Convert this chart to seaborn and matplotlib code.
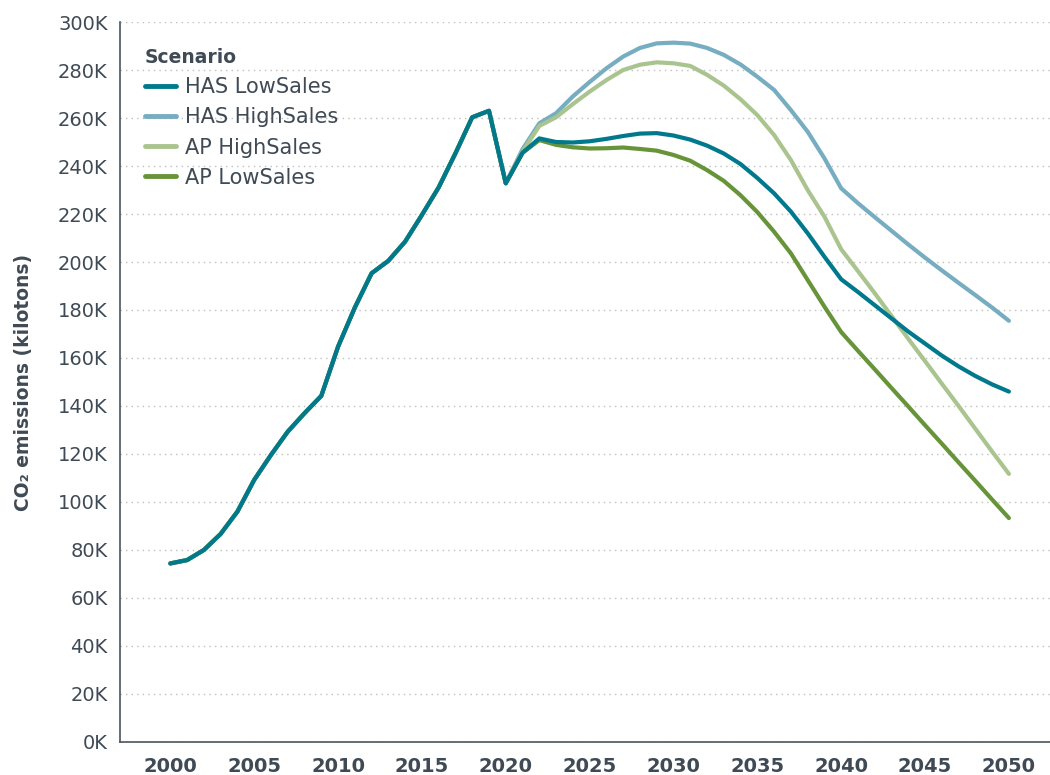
import matplotlib
matplotlib.use("Agg")
import matplotlib.pyplot as plt
import seaborn as sns
import pandas as pd
from matplotlib.ticker import FuncFormatter, MultipleLocator

# ---- data (kilotons CO2) ----
hist_years = list(range(2000, 2020))
hist_values = [74.4, 75.8, 80.0, 86.7, 96.0, 109.2, 119.6, 129.3, 137.0, 144.2,
               164.7, 181.0, 195.3, 200.5, 208.5, 219.6, 231.1, 245.3, 260.3, 263.0]

proj_years = list(range(2020, 2051))
has_low = [232.8, 245.5, 251.5, 250.0, 249.8, 250.3, 251.3, 252.5, 253.5, 253.7,
           252.7, 251.0, 248.5, 245.2, 240.8, 235.0, 228.6, 221.0, 212.0, 202.2,
           192.8, 187.5, 182.0, 176.5, 171.0, 166.0, 161.0, 156.5, 152.5, 149.0, 146.0]
has_high = [232.8, 247.0, 257.8, 262.0, 269.0, 275.0, 280.7, 285.6, 289.2, 291.1,
            291.4, 291.0, 289.2, 286.3, 282.3, 277.2, 271.7, 263.3, 254.3, 243.2,
            230.7, 224.5, 218.7, 213.0, 207.3, 201.8, 196.5, 191.3, 186.2, 181.0, 175.5]
ap_high = [232.8, 246.0, 256.7, 260.3, 265.8, 271.0, 275.8, 280.0, 282.2, 283.2,
           282.8, 281.7, 278.0, 273.5, 267.8, 261.2, 252.9, 242.5, 230.0, 218.9,
           205.3, 196.2, 187.0, 177.5, 168.0, 158.7, 149.3, 140.0, 130.5, 121.0, 111.7]
ap_low = [232.8, 245.5, 250.8, 248.8, 247.8, 247.3, 247.4, 247.7, 247.1, 246.4,
          244.6, 242.2, 238.3, 233.8, 227.8, 220.8, 212.6, 203.6, 192.5, 181.4,
          170.8, 163.0, 155.3, 147.5, 139.8, 132.0, 124.3, 116.5, 108.8, 101.0, 93.3]

scenarios = ["HAS LowSales", "HAS HighSales", "AP HighSales", "AP LowSales"]
colors = ["#00798c", "#77adc0", "#aac48f", "#679439"]

series = {"HAS LowSales": has_low, "HAS HighSales": has_high,
          "AP HighSales": ap_high, "AP LowSales": ap_low}

rows = []
for s in scenarios:
    for y, v in zip(hist_years, hist_values):
        rows.append((y, v * 1000, s))
    for y, v in zip(proj_years, series[s]):
        rows.append((y, v * 1000, s))
df = pd.DataFrame(rows, columns=["year", "value", "Scenario"])

# ---- style ----
sns.set_theme(style="white")
plt.rcParams["font.family"] = ["DejaVu Sans"]
text_color = "#3f4a55"

fig = plt.figure(figsize=(10.5, 7.75), dpi=100)
ax = fig.add_axes([0.1143, 0.0426, 0.8857, 0.929])

sns.lineplot(data=df, x="year", y="value", hue="Scenario", hue_order=scenarios,
             palette=colors, linewidth=3, ax=ax, legend=True)

# put HAS LowSales on top
zmap = {"HAS LowSales": 6, "HAS HighSales": 3, "AP HighSales": 4, "AP LowSales": 5}
for line, s in zip(ax.lines[:4], scenarios):
    line.set_zorder(zmap[s])
    line.set_solid_capstyle("round")

ax.set_xlim(1997.0, 2052.45)
ax.set_ylim(0, 300000)
ax.yaxis.set_major_locator(MultipleLocator(20000))
ax.yaxis.set_major_formatter(FuncFormatter(lambda v, p: f"{int(round(v/1000))}K"))
ax.set_xticks(list(range(2000, 2051, 5)))

ax.grid(axis="y", linestyle=(0, (1, 3)), color="#bfbfbf", linewidth=1.0)
ax.grid(axis="x", visible=False)
for sp in ["top", "right"]:
    ax.spines[sp].set_visible(False)
for sp in ["left", "bottom"]:
    ax.spines[sp].set_color("#4a5560")
    ax.spines[sp].set_linewidth(1.2)

ax.tick_params(axis="y", labelsize=14, colors=text_color, length=0, pad=9)
ax.tick_params(axis="x", labelsize=14, colors=text_color, length=0, pad=11)
for lab in ax.get_xticklabels():
    lab.set_fontweight("bold")

ax.set_xlabel("")
ax.set_ylabel("CO\u2082 emissions (kilotons)", fontsize=13.5, fontweight="bold",
              color=text_color, labelpad=18)

leg = ax.legend(title="Scenario", loc="upper left", bbox_to_anchor=(0.027, 0.964),
                frameon=False, fontsize=15, title_fontsize=13.5,
                borderpad=0, borderaxespad=0,
                handlelength=1.5, handletextpad=0.43, labelspacing=0.49,
                alignment="left")
leg.get_title().set_fontweight("bold")
leg.get_title().set_color(text_color)
for t in leg.get_texts():
    t.set_color(text_color)
for h in leg.legend_handles:
    h.set_linewidth(3.5)

fig.savefig("out.png", dpi=100)
